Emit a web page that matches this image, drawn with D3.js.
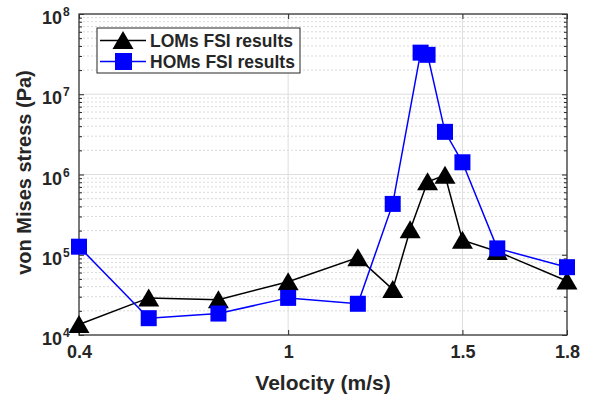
<!DOCTYPE html>
<html>
<head>
<meta charset="utf-8">
<script src="https://cdn.jsdelivr.net/npm/d3@7"></script>
<style>
  body { margin: 0; background: #fff; }
  text { font-family: "Liberation Sans", Arial, Helvetica, sans-serif; font-weight: bold; fill: #262626; }
</style>
</head>
<body>
<div id="chart"></div>
<script>
// Data
var lomVelocity = [0.4, 0.6, 0.8, 1.0, 1.2, 1.3, 1.35, 1.4, 1.45, 1.5, 1.6, 1.8];
var lomStress = [1.35e4, 2.9e4, 2.75e4, 4.6e4, 9.2e4, 3.7e4, 2.05e5, 8.1e5, 9.8e5, 1.52e5, 1.1e5, 4.7e4];
var homVelocity = [0.4, 0.6, 0.8, 1.0, 1.2, 1.3, 1.38, 1.4, 1.45, 1.5, 1.6, 1.8];
var homStress = [1.26e5, 1.62e4, 1.85e4, 2.9e4, 2.45e4, 4.3e5, 3.3e7, 3.1e7, 3.4e6, 1.42e6, 1.2e5, 7e4];
var xTicks = [0.4, 1, 1.5, 1.8];
var yExponents = [4, 5, 6, 7, 8];
var seriesNames = ["LOMs FSI results", "HOMs FSI results"];

var svgWidth = 590;
var svgHeight = 397;
var margin = { top: 14, right: 23, bottom: 62, left: 79 };
var width = svgWidth - margin.left - margin.right;
var height = svgHeight - margin.top - margin.bottom;

var svg = d3.select("#chart").append("svg")
  .attr("width", svgWidth)
  .attr("height", svgHeight);

var chartGroup = svg.append("g")
  .attr("transform", `translate(${margin.left}, ${margin.top})`);

var xScale = d3.scaleLinear().domain([0.4, 1.8]).range([0, width]);
var yScale = d3.scaleLog().domain([1e4, 1e8]).range([height, 0]);

// minor values for log grid
var minorY = [];
for (var e = 4; e < 8; e++) {
  for (var m = 2; m <= 9; m++) minorY.push(m * Math.pow(10, e));
}
var majorY = yExponents.map(d => Math.pow(10, d));

// grid
chartGroup.append("g").selectAll("line")
  .data(minorY).enter().append("line")
  .attr("x1", 0).attr("x2", width)
  .attr("y1", d => yScale(d)).attr("y2", d => yScale(d))
  .attr("stroke", "#dadada").attr("stroke-width", 1)
  .attr("stroke-dasharray", "2,2");

chartGroup.append("g").selectAll("line")
  .data(majorY).enter().append("line")
  .attr("x1", 0).attr("x2", width)
  .attr("y1", d => yScale(d)).attr("y2", d => yScale(d))
  .attr("stroke", "#dedede").attr("stroke-width", 1);

chartGroup.append("g").selectAll("line")
  .data(xTicks).enter().append("line")
  .attr("x1", d => xScale(d)).attr("x2", d => xScale(d))
  .attr("y1", 0).attr("y2", height)
  .attr("stroke", "#dedede").attr("stroke-width", 1);

// axes (MATLAB style, inward ticks on all four sides)
var bottomAxis = d3.axisBottom(xScale).tickValues(xTicks).tickSizeInner(-5).tickSizeOuter(0).tickFormat(d3.format("~g")).tickPadding(10);
var topAxis = d3.axisTop(xScale).tickValues(xTicks).tickSizeInner(-5).tickSizeOuter(0).tickFormat("");
var leftAxis = d3.axisLeft(yScale).tickValues(majorY).tickSizeInner(-5).tickSizeOuter(0).tickFormat("");
var rightAxis = d3.axisRight(yScale).tickValues(majorY).tickSizeInner(-5).tickSizeOuter(0).tickFormat("");
var leftMinor = d3.axisLeft(yScale).tickValues(minorY).tickSizeInner(-3).tickSizeOuter(0).tickFormat("");
var rightMinor = d3.axisRight(yScale).tickValues(minorY).tickSizeInner(-3).tickSizeOuter(0).tickFormat("");

var xAxis = chartGroup.append("g").attr("transform", `translate(0, ${height})`).call(bottomAxis);
xAxis.selectAll("text").style("font-size", "18px").attr("fill", "#262626");
chartGroup.append("g").call(topAxis);
chartGroup.append("g").call(leftAxis);
chartGroup.append("g").call(leftMinor);
chartGroup.append("g").attr("transform", `translate(${width}, 0)`).call(rightAxis);
chartGroup.append("g").attr("transform", `translate(${width}, 0)`).call(rightMinor);
chartGroup.selectAll(".domain").remove();
chartGroup.selectAll(".tick line").attr("stroke", "#262626");

// box
chartGroup.append("rect")
  .attr("width", width).attr("height", height)
  .attr("fill", "none").attr("stroke", "#3a3a3a").attr("stroke-width", 1.3);

// y tick labels 10^n
var yLabels = chartGroup.append("g");
yExponents.forEach(function(p) {
  var y = yScale(Math.pow(10, p));
  yLabels.append("text")
    .attr("x", -17).attr("y", y + 10)
    .attr("text-anchor", "end")
    .style("font-size", "18px")
    .text("10");
  yLabels.append("text")
    .attr("x", -16).attr("y", y + 2)
    .style("font-size", "12px")
    .text(p);
});

// lines and markers
var line = d3.line().x(d => xScale(d[0])).y(d => yScale(d[1]));
var lomData = d3.zip(lomVelocity, lomStress);
var homData = d3.zip(homVelocity, homStress);

var triangle = "M0,-9.5 L10.5,8.5 L-10.5,8.5 Z";

chartGroup.append("path").datum(lomData)
  .attr("d", line).attr("fill", "none").attr("stroke", "#000").attr("stroke-width", 1.5);
chartGroup.append("g").selectAll("path")
  .data(lomData).enter().append("path")
  .attr("transform", d => `translate(${xScale(d[0])}, ${yScale(d[1])})`)
  .attr("d", triangle).attr("fill", "#000");

chartGroup.append("path").datum(homData)
  .attr("d", line).attr("fill", "none").attr("stroke", "#0000ff").attr("stroke-width", 1.5);
chartGroup.append("g").selectAll("rect")
  .data(homData).enter().append("rect")
  .attr("x", d => xScale(d[0]) - 8).attr("y", d => yScale(d[1]) - 8)
  .attr("width", 16).attr("height", 16)
  .attr("fill", "#0000ff");

// legend
var legend = svg.append("g").attr("transform", "translate(97, 28)");
legend.append("rect")
  .attr("width", 203).attr("height", 45)
  .attr("fill", "#fff").attr("stroke", "#262626").attr("stroke-width", 1);
var rowY = [12.5, 33.5];
legend.append("line").attr("x1", 3).attr("x2", 49).attr("y1", rowY[0]).attr("y2", rowY[0])
  .attr("stroke", "#000").attr("stroke-width", 1.5);
legend.append("path").attr("transform", `translate(26, ${rowY[0]})`).attr("d", triangle).attr("fill", "#000");
legend.append("line").attr("x1", 3).attr("x2", 49).attr("y1", rowY[1]).attr("y2", rowY[1])
  .attr("stroke", "#0000ff").attr("stroke-width", 1.5);
legend.append("rect").attr("x", 18).attr("y", rowY[1] - 8.5).attr("width", 17).attr("height", 17).attr("fill", "#0000ff");
seriesNames.forEach(function(name, i) {
  legend.append("text")
    .attr("x", 53).attr("y", rowY[i] + 6.5)
    .style("font-size", "17.5px")
    .text(name);
});

// axis titles
svg.append("text")
  .attr("x", margin.left + width / 2).attr("y", 390)
  .attr("text-anchor", "middle")
  .style("font-size", "21px")
  .text("Velocity (m/s)");

svg.append("text")
  .attr("transform", `translate(31, ${margin.top + height / 2 - 2}) rotate(-90)`)
  .attr("text-anchor", "middle")
  .style("font-size", "20px")
  .text("von Mises stress (Pa)");
</script>
</body>
</html>
